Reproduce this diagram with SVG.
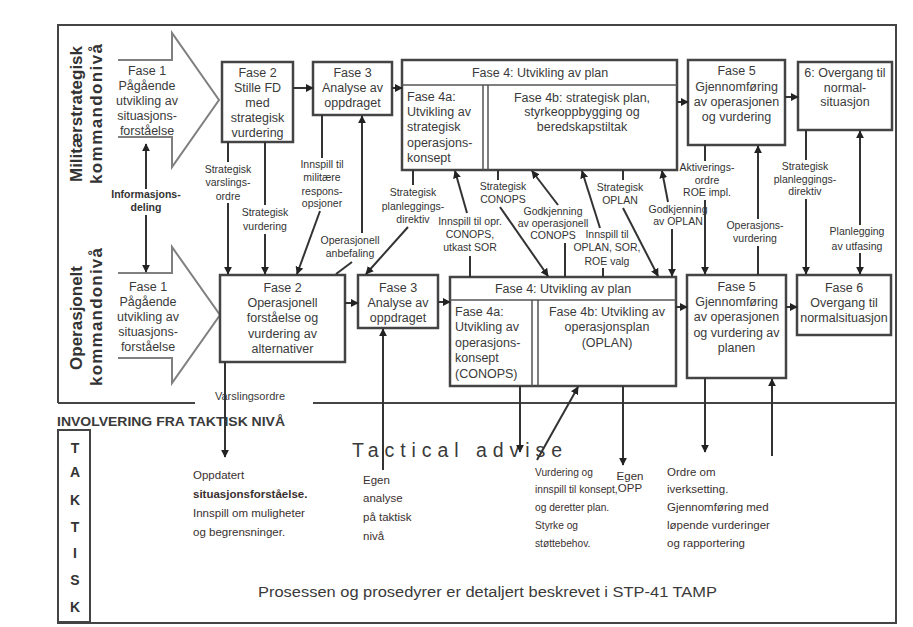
<svg xmlns="http://www.w3.org/2000/svg" width="913" height="627" viewBox="0 0 913 627">
<defs>
<marker id="ah" viewBox="0 0 10 10" refX="9" refY="5" markerWidth="8" markerHeight="8" markerUnits="userSpaceOnUse" orient="auto-start-reverse"><path d="M0,0 L10,5 L0,10 z" fill="#222"/></marker>
<style>
text{font-family:"Liberation Sans",Arial,sans-serif;fill:#3a3a3a}
.box{fill:#fff;stroke:#444;stroke-width:2.5}
.sub{fill:none;stroke:#555;stroke-width:1.5}
.big{fill:#fff;stroke:#808080;stroke-width:2}
.frame{fill:none;stroke:#444;stroke-width:2}
.bt{font-size:12.5px;text-anchor:middle}
.bl{font-size:12.5px}
.lb{font-size:10.5px;text-anchor:middle;fill:#333}
.ln{stroke:#333;stroke-width:2;fill:none}
.ar{marker-end:url(#ah)}
.side{font-size:17px;font-weight:bold;text-anchor:middle;fill:#333}
.tt{font-size:11.5px;fill:#3a3030}
.tv{font-size:10.2px;fill:#3a3030}
.tk{font-size:14px;font-weight:bold;text-anchor:middle;fill:#333}
</style>
</defs>
<rect width="913" height="627" fill="#fff"/>

<g id="frame">
<path class="frame" d="M58,403 L58,25 L896,25 L896,623 L57,623"/>
<path class="frame" d="M58,403 L195,403 M313,403 L896,403"/>
<text x="250" y="400" font-size="11" text-anchor="middle" fill="#555">Varslingsordre</text>
</g>

<g id="levels">
<text class="side" transform="translate(82,114) rotate(-90)">Militærstrategisk</text>
<text class="side" transform="translate(102,114) rotate(-90)" textLength="140" lengthAdjust="spacing">kommandonivå</text>
<text class="side" transform="translate(82,318) rotate(-90)">Operasjonelt</text>
<text class="side" transform="translate(102,317) rotate(-90)" textLength="138" lengthAdjust="spacing">kommandonivå</text>
</g>

<g id="fase1-strat">
<path class="big" d="M118,60 L172,60 L172,33 L219,100 L172,167 L172,137 L118,137"/>
<text class="bt" x="147" y="75">Fase 1</text>
<text class="bt" x="147" y="90">Pågående</text>
<text class="bt" x="147" y="105">utvikling av</text>
<text class="bt" x="147" y="120">situasjons-</text>
<text class="bt" x="147" y="135">forståelse</text>
</g>
<g id="fase2-strat">
<rect class="box" x="222" y="62" width="71" height="80"/>
<text class="bt" x="257.5" y="77">Fase 2</text>
<text class="bt" x="257.5" y="92">Stille FD</text>
<text class="bt" x="257.5" y="107">med</text>
<text class="bt" x="257.5" y="122">strategisk</text>
<text class="bt" x="257.5" y="137">vurdering</text>
</g>
<g id="fase3-strat">
<rect class="box" x="313" y="62" width="79" height="53"/>
<text class="bt" x="352.5" y="77">Fase 3</text>
<text class="bt" x="352.5" y="92">Analyse av</text>
<text class="bt" x="352.5" y="107">oppdraget</text>
</g>
<g id="fase4-strat">
<rect class="box" x="402" y="60" width="275" height="110"/>
<path class="sub" d="M402,85 L677,85 M483,85 L483,170 M488,85 L488,170"/>
<text class="bt" x="540" y="77">Fase 4: Utvikling av plan</text>
<text class="bl" x="407" y="101">Fase 4a:</text>
<text class="bl" x="407" y="116">Utvikling av</text>
<text class="bl" x="407" y="131">strategisk</text>
<text class="bl" x="407" y="147">operasjons-</text>
<text class="bl" x="407" y="162">konsept</text>
<text class="bt" x="582" y="102">Fase 4b: strategisk plan,</text>
<text class="bt" x="582" y="116">styrkeoppbygging og</text>
<text class="bt" x="582" y="131">beredskapstiltak</text>
</g>
<g id="fase5-strat">
<rect class="box" x="688" y="60" width="97" height="85"/>
<text class="bt" x="736.5" y="75">Fase 5</text>
<text class="bt" x="736.5" y="91">Gjennomføring</text>
<text class="bt" x="736.5" y="106">av operasjonen</text>
<text class="bt" x="736.5" y="121">og vurdering</text>
</g>
<g id="fase6-strat">
<rect class="box" x="798" y="62" width="94" height="68"/>
<text class="bt" x="845" y="77">6: Overgang til</text>
<text class="bt" x="845" y="92">normal-</text>
<text class="bt" x="845" y="106">situasjon</text>
</g>

<g id="fase1-op">
<path class="big" d="M118,273 L172,273 L172,247 L220,315 L172,383 L172,358 L118,358"/>
<text class="bt" x="148" y="291">Fase 1</text>
<text class="bt" x="148" y="306">Pågående</text>
<text class="bt" x="148" y="321">utvikling av</text>
<text class="bt" x="148" y="336">situasjons-</text>
<text class="bt" x="148" y="351">forståelse</text>
</g>
<g id="fase2-op">
<rect class="box" x="220" y="275" width="125" height="87"/>
<text class="bt" x="282.5" y="292">Fase 2</text>
<text class="bt" x="282.5" y="307">Operasjonell</text>
<text class="bt" x="282.5" y="322">forståelse og</text>
<text class="bt" x="282.5" y="338">vurdering av</text>
<text class="bt" x="282.5" y="353">alternativer</text>
</g>
<g id="fase3-op">
<rect class="box" x="358" y="275" width="80" height="53"/>
<text class="bt" x="398" y="292">Fase 3</text>
<text class="bt" x="398" y="307">Analyse av</text>
<text class="bt" x="398" y="322">oppdraget</text>
</g>
<g id="fase4-op">
<rect class="box" x="450" y="277" width="226" height="109"/>
<path class="sub" d="M450,300 L676,300 M532,300 L532,386 M538,300 L538,386"/>
<text class="bt" x="563" y="293">Fase 4: Utvikling av plan</text>
<text class="bl" x="455" y="316">Fase 4a:</text>
<text class="bl" x="455" y="331">Utvikling av</text>
<text class="bl" x="455" y="347">operasjons-</text>
<text class="bl" x="455" y="362">konsept</text>
<text class="bl" x="455" y="378">(CONOPS)</text>
<text class="bt" x="607" y="316">Fase 4b: Utvikling av</text>
<text class="bt" x="607" y="331">operasjonsplan</text>
<text class="bt" x="607" y="347">(OPLAN)</text>
</g>
<g id="fase5-op">
<rect class="box" x="687" y="275" width="99" height="103"/>
<text class="bt" x="736.5" y="291">Fase 5</text>
<text class="bt" x="736.5" y="306">Gjennomføring</text>
<text class="bt" x="736.5" y="321">av operasjonen</text>
<text class="bt" x="736.5" y="337">og vurdering av</text>
<text class="bt" x="736.5" y="352">planen</text>
</g>
<g id="fase6-op">
<rect class="box" x="797" y="275" width="94" height="60"/>
<text class="bt" x="844" y="292">Fase 6</text>
<text class="bt" x="844" y="307">Overgang til</text>
<text class="bt" x="844" y="322">normalsituasjon</text>
</g>

<g id="tactical">
<text x="57" y="426" font-size="12" font-weight="bold" fill="#333" textLength="228" lengthAdjust="spacingAndGlyphs">INVOLVERING FRA TAKTISK NIVÅ</text>
<rect x="58" y="430" width="32" height="192" fill="none" stroke="#444" stroke-width="2"/>
<text class="tk" x="75" y="453">T</text>
<text class="tk" x="75" y="477">A</text>
<text class="tk" x="75" y="505">K</text>
<text class="tk" x="75" y="532">T</text>
<text class="tk" x="75" y="558">I</text>
<text class="tk" x="75" y="585">S</text>
<text class="tk" x="75" y="612">K</text>
<text x="352" y="457" font-size="19.5" fill="#333" textLength="210" lengthAdjust="spacing">Tactical advise</text>
<text class="tt" x="193" y="479">Oppdatert</text>
<text class="tt" x="193" y="498" font-weight="bold">situasjonsforståelse.</text>
<text class="tt" x="193" y="517">Innspill om muligheter</text>
<text class="tt" x="193" y="536">og begrensninger.</text>
<text class="tt" x="363" y="484">Egen</text>
<text class="tt" x="363" y="502">analyse</text>
<text class="tt" x="363" y="521">på taktisk</text>
<text class="tt" x="363" y="540">nivå</text>
<text class="tv" x="535" y="476">Vurdering og</text>
<text class="tv" x="535" y="493">innspill til konsept,</text>
<text class="tv" x="535" y="511">og deretter plan.</text>
<text class="tv" x="535" y="529">Styrke og</text>
<text class="tv" x="535" y="547">støttebehov.</text>
<text class="tt" x="630" y="480" font-size="9" text-anchor="middle">Egen</text>
<text class="tt" x="630" y="492" font-size="9" text-anchor="middle">OPP</text>
<text class="tt" x="667" y="476">Ordre om</text>
<text class="tt" x="667" y="493">iverksetting.</text>
<text class="tt" x="667" y="511">Gjennomføring med</text>
<text class="tt" x="667" y="529">løpende vurderinger</text>
<text class="tt" x="667" y="547">og rapportering</text>
<text x="258" y="597" font-size="14" fill="#3a3030" textLength="459" lengthAdjust="spacingAndGlyphs">Prosessen og prosedyrer er detaljert beskrevet i STP-41 TAMP</text>
</g>

<g id="connectors">
<path class="ln ar" d="M293,88 L313,88"/>
<path class="ln ar" d="M392,88 L402,88"/>
<path class="ln ar" d="M677,102 L688,102"/>
<path class="ln ar" d="M785,97 L798,97"/>
<path class="ln ar" d="M345,303 L358,303"/>
<path class="ln ar" d="M438,302 L450,302"/>
<path class="ln ar" d="M676,307 L687,307"/>
<path class="ln ar" d="M786,307 L797,307"/>

<path class="ln ar" d="M146,189 L146,144"/>
<path class="ln ar" d="M146,215 L146,272"/>
<text class="lb" x="146" y="198" font-weight="bold" font-size="9.5">Informasjons-</text>
<text class="lb" x="146" y="211" font-weight="bold" font-size="9.5">deling</text>

<path class="ln" d="M228,142 L228,162"/>
<path class="ln ar" d="M228,203 L228,274"/>
<text class="lb" x="228" y="173">Strategisk</text>
<text class="lb" x="228" y="186">varslings-</text>
<text class="lb" x="228" y="200">ordre</text>

<path class="ln" d="M265,142 L265,205"/>
<path class="ln ar" d="M265,234 L265,274"/>
<text class="lb" x="265" y="216">Strategisk</text>
<text class="lb" x="265" y="230">vurdering</text>

<path class="ln" d="M322,115 L322,158"/>
<path class="ln ar" d="M320,211 L297,274"/>
<text class="lb" x="322" y="168">Innspill til</text>
<text class="lb" x="322" y="181">militære</text>
<text class="lb" x="322" y="195">respons-</text>
<text class="lb" x="322" y="207">opsjoner</text>

<path class="ln" d="M336,274 L352,262"/>
<path class="ln ar" d="M362,233 L362,116"/>
<text class="lb" x="350" y="244">Operasjonell</text>
<text class="lb" x="350" y="257">anbefaling</text>

<path class="ln" d="M413,170 L413,185"/>
<path class="ln ar" d="M408,227 L366,274"/>
<text class="lb" x="413" y="196">Strategisk</text>
<text class="lb" x="413" y="210">planleggings-</text>
<text class="lb" x="413" y="223">direktiv</text>

<path class="ln" d="M470,277 L470,256"/>
<path class="ln ar" d="M467,213 L455,171"/>
<text class="lb" x="470" y="225">Innspill til opr.</text>
<text class="lb" x="470" y="238">CONOPS,</text>
<text class="lb" x="470" y="251">utkast SOR</text>

<path class="ln" d="M498,170 L498,180"/>
<path class="ln ar" d="M500,207 L548,276"/>
<text class="lb" x="503" y="190">Strategisk</text>
<text class="lb" x="503" y="203">CONOPS</text>

<path class="ln" d="M565,277 L565,243"/>
<path class="ln ar" d="M558,205 L532,171"/>
<text class="lb" x="553" y="215">Godkjenning</text>
<text class="lb" x="553" y="227">av operasjonell</text>
<text class="lb" x="553" y="239">CONOPS</text>

<path class="ln" d="M603,277 L603,268"/>
<path class="ln ar" d="M600,228 L582,171"/>
<text class="lb" x="607" y="238">Innspill til</text>
<text class="lb" x="607" y="251">OPLAN, SOR,</text>
<text class="lb" x="607" y="265">ROE valg</text>

<path class="ln" d="M623,170 L623,180"/>
<path class="ln ar" d="M623,208 L658,276"/>
<text class="lb" x="620" y="191">Strategisk</text>
<text class="lb" x="620" y="204">OPLAN</text>

<path class="ln ar" d="M668,202 L662,171"/>
<path class="ln ar" d="M672,229 L672,276"/>
<text class="lb" x="678" y="213">Godkjenning</text>
<text class="lb" x="678" y="225">av OPLAN</text>

<path class="ln" d="M705,145 L705,161"/>
<path class="ln ar" d="M705,200 L705,274"/>
<text class="lb" x="707" y="171">Aktiverings-</text>
<text class="lb" x="707" y="184">ordre</text>
<text class="lb" x="707" y="196">ROE impl.</text>

<path class="ln" d="M758,275 L758,246"/>
<path class="ln ar" d="M758,219 L758,146"/>
<text class="lb" x="755" y="229">Operasjons-</text>
<text class="lb" x="755" y="242">vurdering</text>

<path class="ln" d="M806,130 L806,160"/>
<path class="ln ar" d="M806,199 L806,274"/>
<text class="lb" x="805" y="170">Strategisk</text>
<text class="lb" x="805" y="183">planleggings-</text>
<text class="lb" x="805" y="195">direktiv</text>

<path class="ln ar" d="M860,253 L860,274"/>
<path class="ln ar" d="M860,225 L860,131"/>
<text class="lb" x="857" y="235">Planlegging</text>
<text class="lb" x="857" y="250">av utfasing</text>

<path class="ln ar" d="M225,362 L225,457"/>
<path class="ln ar" d="M383,470 L383,329"/>
<path class="ln ar" d="M520,386 L520,452"/>
<path class="ln ar" d="M537,460 L578,387"/>
<path class="ln ar" d="M623,386 L623,465"/>
<path class="ln ar" d="M705,378 L705,452"/>
<path class="ln ar" d="M772,456 L772,379"/>
</g>
</svg>
